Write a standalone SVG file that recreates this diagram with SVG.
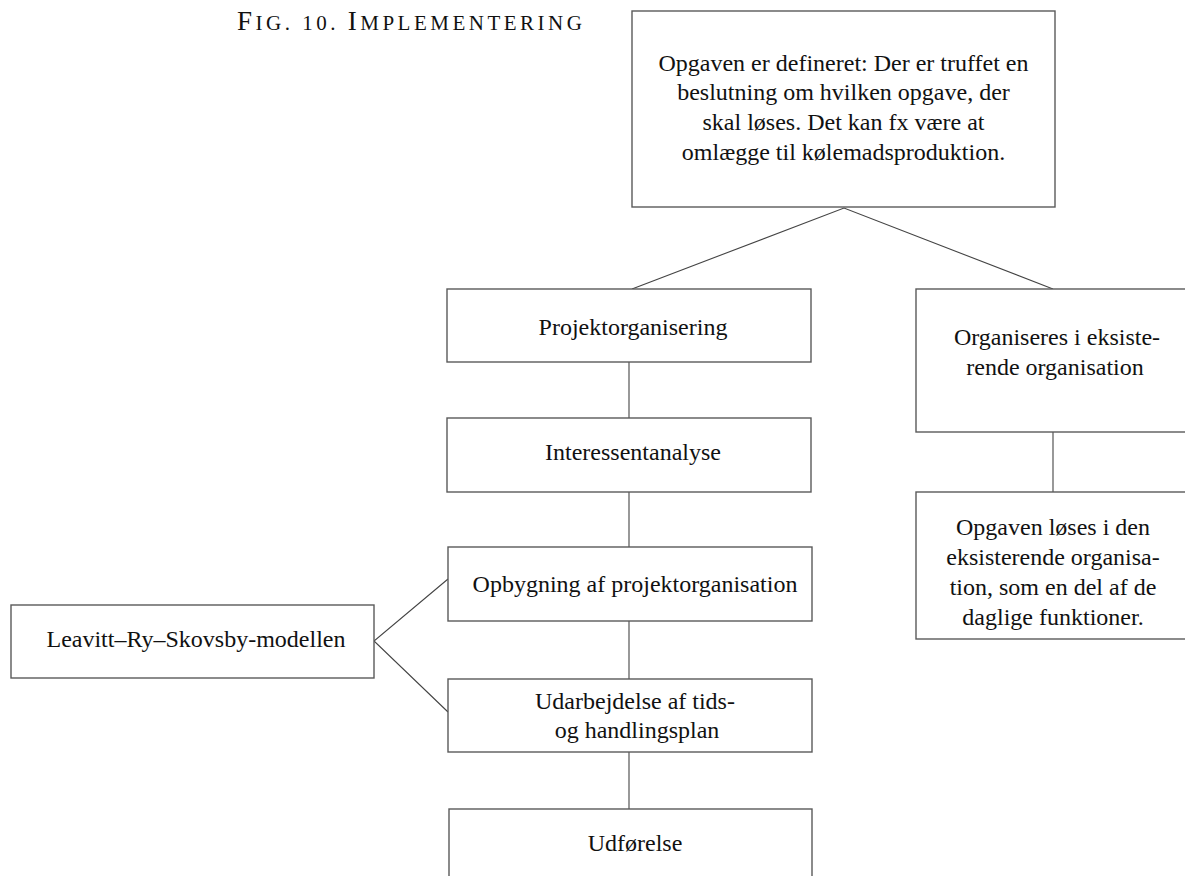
<svg xmlns="http://www.w3.org/2000/svg" width="1185" height="876" viewBox="0 0 1185 876">
  <style>
    .box { fill: #ffffff; stroke: #5a5a5a; stroke-width: 1.4; }
    .link { fill: none; stroke: #444444; stroke-width: 1.1; }
    .lbl { font-family: "Liberation Serif", "DejaVu Serif", serif; font-size: 24px; fill: #111111; text-anchor: middle; }
    .title { font-family: "Liberation Serif", "DejaVu Serif", serif; font-size: 21px; fill: #111111; letter-spacing: 3.5px; }
    .cap { font-size: 27px; }
  </style>
  <rect width="1185" height="876" fill="#ffffff"/>

  <!-- heading set in small capitals -->
  <text class="title" x="237" y="30"><tspan class="cap">F</tspan>IG. 10. <tspan class="cap">I</tspan>MPLEMENTERING</text>

  <g id="connectors">
    <polyline class="link" points="632,289 844,208 1053,289"/>
    <line class="link" x1="629" y1="362" x2="629" y2="418"/>
    <line class="link" x1="629" y1="492" x2="629" y2="547"/>
    <line class="link" x1="629" y1="621" x2="629" y2="679"/>
    <line class="link" x1="629" y1="752" x2="629" y2="809"/>
    <polyline class="link" points="448,579 374,641 448,712"/>
    <line class="link" x1="1053" y1="432" x2="1053" y2="492"/>
  </g>

  <g id="task">
    <rect class="box" x="632" y="11" width="423" height="196"/>
    <text class="lbl" x="843.5" y="71">Opgaven er defineret: Der er truffet en</text>
    <text class="lbl" x="843.5" y="100">beslutning om hvilken opgave, der</text>
    <text class="lbl" x="843.5" y="130">skal løses. Det kan fx være at</text>
    <text class="lbl" x="843.5" y="160">omlægge til kølemadsproduktion.</text>
  </g>

  <g id="projektorganisering">
    <rect class="box" x="447" y="289" width="364" height="73"/>
    <text class="lbl" x="633" y="335">Projektorganisering</text>
  </g>

  <g id="interessentanalyse">
    <rect class="box" x="447" y="418" width="364" height="74"/>
    <text class="lbl" x="633" y="460">Interessentanalyse</text>
  </g>

  <g id="opbygning">
    <rect class="box" x="448" y="547" width="364" height="74"/>
    <text class="lbl" x="635" y="592">Opbygning af projektorganisation</text>
  </g>

  <g id="udarbejdelse">
    <rect class="box" x="448" y="679" width="364" height="73"/>
    <text class="lbl" x="635" y="709">Udarbejdelse af tids-</text>
    <text class="lbl" x="637" y="738">og handlingsplan</text>
  </g>

  <g id="udfoerelse">
    <rect class="box" x="449" y="809" width="363" height="80"/>
    <text class="lbl" x="635" y="851">Udførelse</text>
  </g>

  <g id="leavitt">
    <rect class="box" x="11" y="605" width="363" height="73"/>
    <text class="lbl" x="196" y="647">Leavitt–Ry–Skovsby-modellen</text>
  </g>

  <g id="eksisterende">
    <rect class="box" x="916" y="289" width="280" height="143"/>
    <text class="lbl" x="1057" y="345">Organiseres i eksiste-</text>
    <text class="lbl" x="1055" y="375">rende organisation</text>
  </g>

  <g id="daglig">
    <rect class="box" x="916" y="492" width="280" height="147"/>
    <text class="lbl" x="1053" y="535">Opgaven løses i den</text>
    <text class="lbl" x="1053" y="565">eksisterende organisa-</text>
    <text class="lbl" x="1053" y="595">tion, som en del af de</text>
    <text class="lbl" x="1053" y="625">daglige funktioner.</text>
  </g>
</svg>
